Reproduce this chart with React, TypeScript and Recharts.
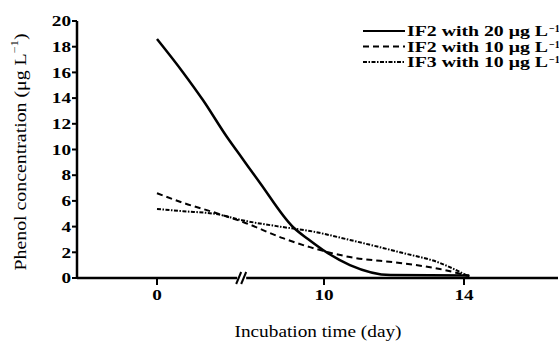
import React from 'react';
import { LineChart, Line, XAxis, YAxis, ReferenceDot } from 'recharts';

// Measured curves (day, µg/L). The x axis is broken between day 0 and day 10.
const solidDays = [0, 1.56, 2.75, 4.19, 5.09, 6.17, 8.14, 9.04, 9.94, 10.74, 11.9, 14.15];
const solidConc = [18.6, 16.0, 13.85, 10.97, 9.34, 7.39, 3.97, 3.03, 2.18, 1.01, 0.23, 0.2];

const dashedDays = [0, 1.56, 3.53, 5.15, 7.54, 9.16, 10.74, 12.17, 13.31, 14.15];
const dashedConc = [6.6, 5.85, 5.06, 4.36, 3.1, 2.4, 1.63, 1.17, 0.7, 0.15];

const dotDays = [0, 1.56, 3.53, 5.09, 7.5, 9.16, 10.74, 12.17, 13.31, 14.15];
const dotConc = [5.37, 5.2, 4.98, 4.5, 3.97, 3.66, 2.96, 2.0, 1.17, 0.1];

const xTickDays = [0, 10, 14];
const yTicks = [0, 2, 4, 6, 8, 10, 12, 14, 16, 18, 20];
const breakDay = 5.1;

const seriesNames = ['IF2 with 20 μg L', 'IF2 with 10 μg L', 'IF3 with 10 μg L'];
const seriesDash = ['', '6 4', '4 1.5 1.5 1.5'];

const FONT = '"Liberation Serif", "Times New Roman", serif';

// piecewise axis: 0..10 squeezed, 10..14 at full scale
const pos = (d: number) => (d <= 10 ? (d * 167) / 350 : 167 / 35 + (d - 10));

const toPoints = (days: number[], conc: number[]) =>
  days.map((d, i) => ({ x: pos(d), y: conc[i] }));

const series = [
  toPoints(solidDays, solidConc),
  toPoints(dashedDays, dashedConc),
  toPoints(dotDays, dotConc),
];

const tickLabel = (v: number) => {
  const i = xTickDays.findIndex(d => Math.abs(pos(d) - v) < 1e-6);
  return i >= 0 ? String(xTickDays[i]) : '';
};

// the source font is wider than Liberation Serif, so stretch the digits a bit
const Tick = (props: any) => {
  const { x, y, payload, textAnchor, isX } = props;
  const label = isX ? tickLabel(payload.value) : String(payload.value);
  return (
    <text
      x={x}
      y={y}
      dy={isX ? '0.75em' : '0.35em'}
      textAnchor={textAnchor}
      fontFamily={FONT}
      fontWeight="bold"
      fontSize={15}
      fill="#000"
      textLength={label.length * 9.6}
      lengthAdjust="spacingAndGlyphs"
    >
      {label}
    </text>
  );
};

const BreakMark = (props: { cx?: number; cy?: number }) => {
  const { cx, cy } = props;
  if (cx === undefined || cy === undefined) return null;
  return (
    <g>
      <rect x={cx - 5} y={cy - 3} width={9} height={6} fill="#fff" />
      <line x1={cx - 6} y1={cy + 6} x2={cx - 1} y2={cy - 6} stroke="#000" strokeWidth={2} />
      <line x1={cx - 1} y1={cy + 6} x2={cx + 4} y2={cy - 6} stroke="#000" strokeWidth={2} />
    </g>
  );
};

const LegendBox = () => (
  <svg width={200} height={80} style={{ position: 'absolute', left: 359, top: 0 }}>
    {seriesNames.map((name, i) => {
      const cy = 31 + i * 15.5;
      return (
        <g key={name}>
          <line x1={4} y1={cy} x2={46} y2={cy} stroke="#000" strokeWidth={2} strokeDasharray={seriesDash[i] || undefined} />
          <text
            x={48}
            y={cy}
            dy="0.35em"
            fontFamily={FONT}
            fontWeight="bold"
            fontSize={15}
            fill="#000"
            textLength={141}
            lengthAdjust="spacingAndGlyphs"
          >
            {name}
          </text>
          <text x={190} y={cy + 1} fontFamily={FONT} fontWeight="bold" fontSize={10} fill="#000">
            −1
          </text>
        </g>
      );
    })}
  </svg>
);

const YTitle = () => (
  <text
    x={20}
    y={152}
    transform="rotate(-90 20 152)"
    textAnchor="middle"
    dominantBaseline="central"
    fontFamily={FONT}
    fontSize={16}
    fill="#000"
    textLength={237}
    lengthAdjust="spacingAndGlyphs"
  >
    Phenol concentration (μg L<tspan dy={-6} fontSize={10}>−1</tspan>
    <tspan dy={6}>)</tspan>
  </text>
);

const XTitle = () => (
  <text
    x={318}
    y={337}
    textAnchor="middle"
    fontFamily={FONT}
    fontSize={16.5}
    fill="#000"
    textLength={167}
    lengthAdjust="spacingAndGlyphs"
  >
    Incubation time (day)
  </text>
);

export default function App() {
  return (
    <div style={{ position: 'absolute', left: 0, top: 0, width: 559, height: 342, background: '#fff' }}>
      <LineChart width={559} height={342} margin={{ top: 21, right: 1, bottom: 0, left: 0 }}>
        <XAxis
          type="number"
          dataKey="x"
          domain={[(77 - 157) / 35, (558 - 157) / 35]}
          ticks={xTickDays.map(pos)}
          allowDataOverflow
          height={64}
          tickSize={7}
          tickMargin={4}
          axisLine={{ stroke: '#000', strokeWidth: 2.5 }}
          tickLine={{ stroke: '#000', strokeWidth: 2 }}
          tick={<Tick isX />}
          label={<XTitle />}
        />
        <YAxis
          type="number"
          dataKey="y"
          domain={[0, 20]}
          ticks={yTicks}
          interval={0}
          width={77}
          tickSize={5}
          tickMargin={1}
          axisLine={{ stroke: '#000', strokeWidth: 2.5 }}
          tickLine={{ stroke: '#000', strokeWidth: 2 }}
          tick={<Tick />}
          label={<YTitle />}
        />
        {series.map((pts, i) => (
          <Line
            key={seriesNames[i]}
            data={pts}
            dataKey="y"
            type="monotone"
            stroke="#000"
            strokeWidth={i === 0 ? 2.5 : 2}
            strokeDasharray={seriesDash[i] || undefined}
            dot={false}
            activeDot={false}
            legendType="none"
            isAnimationActive={false}
          />
        ))}
        <ReferenceDot x={pos(breakDay)} y={0} r={0} shape={<BreakMark />} ifOverflow="visible" />
      </LineChart>
      <LegendBox />
    </div>
  );
}
